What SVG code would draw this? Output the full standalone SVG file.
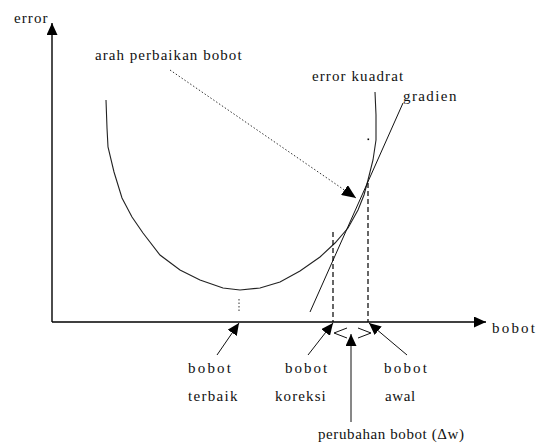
<svg xmlns="http://www.w3.org/2000/svg" width="542" height="447" viewBox="0 0 542 447">
<style>
text{font-family:"Liberation Serif","Times New Roman",serif;font-size:15px;fill:#111}
.ax{stroke:#000;stroke-width:1.4;fill:none}
.cv{stroke:#222;stroke-width:1.1;fill:none}
.ds{stroke:#000;stroke-width:1.2;stroke-dasharray:5,3;fill:none}
.dt{stroke:#333;stroke-width:1;stroke-dasharray:1.5,2;fill:none}
.ln{stroke:#111;stroke-width:1;fill:none}
</style>
<defs>
<marker id="ah" markerUnits="userSpaceOnUse" markerWidth="13" markerHeight="11" refX="12" refY="5.5" orient="auto">
<path d="M0,0 L12,5.5 L0,11 z" fill="#000"/>
</marker>
<marker id="ahb" markerUnits="userSpaceOnUse" markerWidth="15" markerHeight="12" refX="14" refY="6" orient="auto">
<path d="M0,0 L14,6 L0,12 z" fill="#000"/>
</marker>
</defs>
<g id="axes">
<line class="ax" x1="52" y1="322" x2="52" y2="23" marker-end="url(#ah)"/>
<line class="ax" x1="52" y1="322" x2="486" y2="322" marker-end="url(#ah)"/>
<text x="14" y="23" letter-spacing="1.1">error</text>
<text x="492" y="333" letter-spacing="2.2">bobot</text>
</g>
<g id="error-kuadrat">
<polyline class="cv" points="106,100 107,128 108,147 114,172 122,198 132,217 143,233 160,255 180,270 200,280 223,288 240,290 260,288 280,282 300,271 320,257 335,243 348,228 358,210 364,195 368,180 373,160 376,140 376,115 375,92"/>
<text x="312" y="81" letter-spacing="1.1">error kuadrat</text>
<rect x="367.5" y="138.5" width="1.6" height="1.6" fill="#000"/>
</g>
<g id="gradien">
<line class="ln" x1="310" y1="312" x2="403" y2="103"/>
<text x="403" y="101" letter-spacing="1.4">gradien</text>
</g>
<g id="arah-perbaikan">
<text x="95" y="60" letter-spacing="1.05">arah perbaikan bobot</text>
</g>
<g id="bobot-terbaik">
<text x="188" y="373" letter-spacing="2.2">bobot</text>
<text x="188" y="401" letter-spacing="1.3">terbaik</text>
</g>
<g id="bobot-koreksi">
<text x="285" y="373" letter-spacing="2">bobot</text>
<text x="275" y="401" letter-spacing="1.1">koreksi</text>
</g>
<g id="bobot-awal">
<text x="384" y="373" letter-spacing="2.2">bobot</text>
<text x="385" y="401" letter-spacing="0.6">awal</text>
</g>
<g id="perubahan-bobot">
<text x="318" y="439" letter-spacing="0.6">perubahan bobot (Δw)</text>
</g>
<g id="connectors">
<line class="ds" x1="333" y1="232" x2="333" y2="322"/>
<line class="ds" x1="368" y1="183" x2="368" y2="322"/>
<line class="dt" x1="239" y1="299" x2="239" y2="313"/>
<line class="dt" x1="170" y1="70" x2="356" y2="198" marker-end="url(#ahb)"/>
<line class="ln" x1="217" y1="355" x2="239" y2="323" marker-end="url(#ah)"/>
<line class="ln" x1="308" y1="355" x2="333" y2="323" marker-end="url(#ah)"/>
<line class="ln" x1="407" y1="355" x2="369" y2="323" marker-end="url(#ah)"/>
<line class="ln" x1="351" y1="422" x2="351" y2="334" marker-end="url(#ah)"/>
<polyline class="ln" points="347,328 334,333 347,338"/>
<polyline class="ln" points="358,328 371,333 358,338"/>
</g>
</svg>
